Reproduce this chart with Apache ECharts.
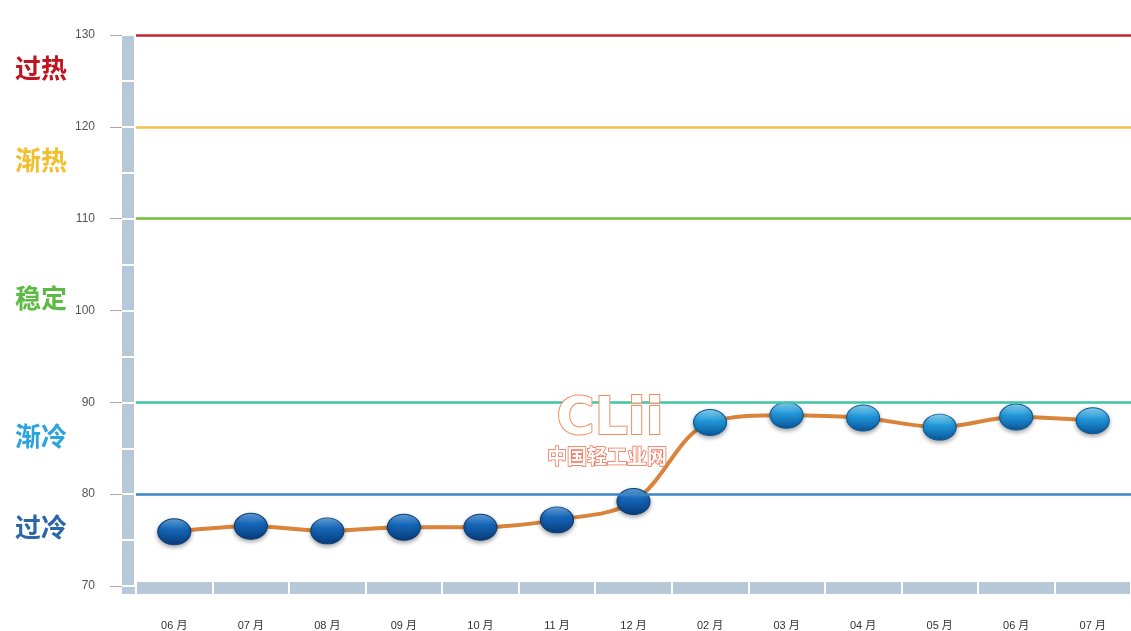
<!DOCTYPE html>
<html>
<head>
<meta charset="utf-8">
<script src="https://cdn.jsdelivr.net/npm/echarts@6/dist/echarts.min.js"></script>
<style>html,body{margin:0;padding:0;background:#fff;}#c{width:1131px;height:631px;}</style>
</head>
<body>
<div id="c"></div>
<script>
// ---- data ----
const months = ['06 月','07 月','08 月','09 月','10 月','11 月','12 月','02 月','03 月','04 月','05 月','06 月','07 月'];
const values = [75.9, 76.5, 76.0, 76.4, 76.4, 77.2, 79.2, 87.8, 88.6, 88.3, 87.3, 88.4, 88.0];
const levels = [130, 120, 110, 90, 80];
const zoneNames = ['过热', '渐热', '稳定', '渐冷', '过冷'];
const zoneValues = [126.4, 116.4, 101.4, 86.3, 76.4];
const yMin = 70, yMax = 130, yStep = 10;

// ---- styles ----
const levelColors = ['#c0282d', '#f3c24a', '#72bf3a', '#3fc4a4', '#3a86c6'];
const zoneColors = ['#c0141e', '#f2c02c', '#5dba45', '#2ba3dc', '#2b67a8'];

const chart = echarts.init(document.getElementById('c'), null, {renderer: 'canvas'});
const barColor = '#b7c8d8';

function pointStyle(v) {
  const dark = v < 80;
  return {
    color: new echarts.graphic.LinearGradient(0, 0, 0, 1, dark ? [
      {offset: 0, color: '#6aa8e0'}, {offset: 0.4, color: '#1667b8'}, {offset: 1, color: '#073b7a'}
    ] : [
      {offset: 0, color: '#8fdaf8'}, {offset: 0.45, color: '#1f96d8'}, {offset: 1, color: '#0b5499'}
    ]),
    borderColor: dark ? '#0a3d78' : '#0d5a96',
    borderWidth: 1,
    shadowBlur: 4,
    shadowColor: 'rgba(0,0,0,0.35)',
    shadowOffsetY: 2
  };
}

const option = {
  animation: false,
  backgroundColor: '#fff',
  grid: {left: 136, right: 0, top: 35, bottom: 44},
  xAxis: [{
    type: 'category', data: months, boundaryGap: true, position: 'bottom', offset: 2,
    axisLine: {show: true, lineStyle: {color: barColor, width: 12, cap: 'butt'}},
    axisTick: {show: false},
    axisLabel: {margin: 32, color: '#333', fontSize: 11, fontFamily: 'Arial, "Noto Sans CJK SC"'},
    splitLine: {show: false}
  }, {
    type: 'category', data: months, boundaryGap: true, position: 'bottom', offset: -4,
    axisLine: {show: false},
    axisTick: {show: true, length: 12, lineStyle: {color: '#fff', width: 2}},
    axisLabel: {show: false}, splitLine: {show: false}, z: 5
  }],
  yAxis: [{
    type: 'value', min: yMin, max: yMax, interval: yStep, position: 'left', offset: 8,
    axisLine: {show: true, lineStyle: {color: barColor, width: 12, cap: 'butt'}},
    axisTick: {show: false},
    splitLine: {show: false},
    axisLabel: {margin: 33, color: '#555', fontSize: 12, fontFamily: 'Arial'}
  }, {
    type: 'value', min: yMin, max: yMax, interval: yStep / 2, position: 'left', offset: 2,
    axisLine: {show: false},
    axisTick: {show: true, length: 12, lineStyle: {color: '#fff', width: 2}},
    axisLabel: {show: false}, splitLine: {show: false}, z: 5
  }, {
    type: 'value', min: yMin, max: yMax, interval: yStep, position: 'left', offset: 14,
    axisLine: {show: false},
    axisTick: {show: true, length: 12, lineStyle: {color: '#aaa', width: 1}},
    axisLabel: {show: false}, splitLine: {show: false}
  }],
  series: [{
    type: 'line',
    xAxisIndex: 0, yAxisIndex: 0,
    data: values.map(v => ({value: v, itemStyle: pointStyle(v)})),
    smooth: 0.35,
    symbol: 'circle',
    symbolSize: [33, 26],
    lineStyle: {color: '#d9843a', width: 4},
    z: 3,
    markLine: {
      silent: true, symbol: 'none', label: {show: false},
      lineStyle: {width: 2.5, type: 'solid'},
      data: levels.map((v, i) => ({yAxis: v, lineStyle: {color: levelColors[i], width: 2.5, type: 'solid'}}))
    }
  }]
};
chart.setOption(option);

const bottomY = chart.convertToPixel({yAxisIndex: 0}, yMin);
const graphics = zoneNames.map((name, i) => ({
  type: 'text',
  x: 15,
  y: chart.convertToPixel({yAxisIndex: 0}, zoneValues[i]),
  style: {
    text: name, fill: zoneColors[i],
    font: 'bold 26px "Noto Sans CJK SC"',
    verticalAlign: 'middle', align: 'left'
  },
  z: 10
}));
// corner piece joining the two axis bars
graphics.push({
  type: 'rect', shape: {x: 122, y: bottomY + 1, width: 13, height: 7},
  style: {fill: barColor}, z: 4
});
// watermark
graphics.push({
  type: 'text', x: 610, y: 420,
  style: {text: 'CLii', fill: '#fff', stroke: '#f28a5e', lineWidth: 2,
    font: 'bold 52px "DejaVu Sans"', align: 'center', verticalAlign: 'middle'},
  z: 20
});
graphics.push({
  type: 'text', x: 607, y: 456,
  style: {text: '中国轻工业网', fill: '#fff', stroke: '#f06a4a', lineWidth: 1.5,
    font: 'bold 20px "Noto Sans CJK SC"', align: 'center', verticalAlign: 'middle'},
  z: 20
});
chart.setOption({graphic: graphics});
</script>
</body>
</html>
